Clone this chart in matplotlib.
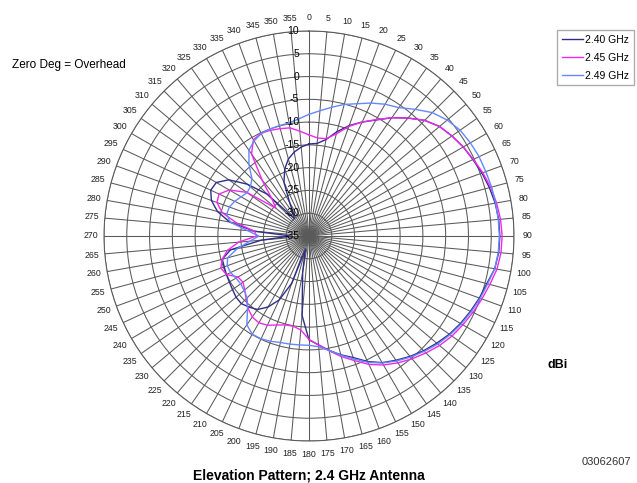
import numpy as np
import matplotlib
matplotlib.use("Agg")
import matplotlib.pyplot as plt
from matplotlib.transforms import offset_copy

plt.rcParams['font.family'] = ['Liberation Sans', 'DejaVu Sans']

# angles in degrees, 0 = overhead, clockwise
angles = np.arange(0, 360, 5)

gain_240 = [-14.8, -14.6, -13.5, -11.3, -9.2, -7.4, -5.6, -3.3, -1.2, 0.9,
            2.4, 3.3, 4.1, 4.7, 5.4, 6.0, 6.5, 6.8, 6.9, 6.8,
            6.4, 5.4, 4.8, 4.1, 3.4, 2.6, 1.6, 0.6, -0.5, -1.7,
            -2.9, -4.6, -6.6, -8.0, -9.5, -11.0, -12.2, -17.5, -27.0, -32.0,
            -24.0, -19.5, -17.0, -15.3, -14.6, -14.0, -14.1, -14.5, -14.8, -15.0,
            -15.2, -15.3, -17.5, -24.5, -31.0, -23.0, -17.3, -14.2, -12.2, -11.2,
            -11.5, -13.5, -17.3, -22.0, -30.0, -29.0, -26.5, -22.0, -19.4, -17.5,
            -16.3, -15.4]

gain_245 = [-12.8, -13.4, -13.3, -11.8, -9.4, -7.4, -5.5, -3.3, -1.2, 0.9,
            2.4, 3.3, 4.1, 4.8, 5.6, 6.3, 6.8, 7.2, 7.4, 7.3,
            6.9, 6.1, 5.4, 4.7, 4.0, 3.3, 2.4, 1.3, 0.2, -1.0,
            -2.3, -3.9, -5.9, -7.6, -9.4, -11.0, -12.3, -14.3, -14.9, -14.8,
            -14.2, -13.4, -13.0, -13.3, -14.2, -15.5, -16.6, -17.3, -17.0, -15.0,
            -14.4, -15.3, -16.8, -19.5, -23.5, -23.0, -19.0, -15.3, -13.5, -13.2,
            -14.8, -18.3, -25.5, -23.5, -19.0, -13.0, -10.6, -10.1, -10.3, -10.6,
            -10.9, -11.9]

gain_249 = [-8.3, -7.4, -6.3, -5.1, -4.1, -2.8, -1.6, -0.6, 1.3, 3.3,
            4.6, 5.5, 5.9, 6.2, 6.3, 6.5, 6.6, 6.7, 6.8, 6.7,
            6.4, 5.6, 5.0, 4.3, 3.6, 2.8, 1.9, 0.8, -0.3, -1.5,
            -2.8, -4.4, -6.3, -7.9, -9.5, -10.6, -11.0, -11.0, -10.9, -10.8,
            -10.4, -10.1, -10.1, -11.2, -14.0, -15.8, -16.4, -16.7, -16.5, -16.0,
            -15.9, -16.5, -19.0, -22.0, -24.0, -21.5, -17.4, -16.3, -16.4, -17.0,
            -17.8, -18.4, -18.2, -17.3, -14.5, -12.0, -10.9, -10.2, -10.0, -9.9,
            -9.8, -9.2]

series = [("2.40 GHz", gain_240, "#2e2e8a"),
          ("2.45 GHz", gain_245, "#f028f0"),
          ("2.49 GHz", gain_249, "#6688ff")]

r_ticks = [10, 5, 0, -5, -10, -15, -20, -25, -30, -35]

fig = plt.figure(figsize=(6.37, 4.83), dpi=100)
ax = fig.add_axes([104 / 637, 42 / 483, 410 / 637, 410 / 483], projection='polar')
ax.set_theta_zero_location('N')
ax.set_theta_direction(-1)
ax.set_ylim(-35, 10)
ax.set_yticks(r_ticks)
ax.set_yticklabels([])
ax.set_thetagrids(angles, [str(a) for a in angles], fontsize=6.3, color='#222222')
ax.tick_params(axis='x', pad=-1)
ax.grid(True, color='#5a5a5a', linewidth=0.75)
ax.spines['polar'].set_color('#5a5a5a')
ax.spines['polar'].set_linewidth(0.75)

theta = np.deg2rad(np.append(angles, angles[0]))
for name, g, c in series:
    ax.plot(theta, np.append(g, g[0]), color=c, linewidth=1.0, label=name)

trans = offset_copy(ax.transData, fig=fig, x=-7, y=0, units='points')
for v in r_ticks:
    ax.text(0, v, str(v), transform=trans, ha='right', va='center',
            fontsize=7.5, color='black')

fig.legend(loc='upper left', bbox_to_anchor=(552 / 637, 1 - 25 / 483),
           fontsize=7.5, frameon=True, fancybox=False, edgecolor='#999999',
           handlelength=2.0, handletextpad=0.2, labelspacing=0.75, borderpad=0.45)

fig.text(12 / 637, 1 - 65 / 483, "Zero Deg = Overhead", fontsize=8.5,
         ha='left', va='center')
fig.text(558 / 637, 1 - 365 / 483, "dBi", fontsize=9, fontweight='bold',
         ha='center', va='center')
fig.text(582 / 637, 1 - 462 / 483, "03062607", fontsize=8, color='#333333',
         ha='left', va='center')
fig.text(309 / 637, 1 - 475 / 483, "Elevation Pattern; 2.4 GHz Antenna",
         fontsize=10, fontweight='bold', ha='center', va='center')

fig.savefig("out.png", dpi=100)
